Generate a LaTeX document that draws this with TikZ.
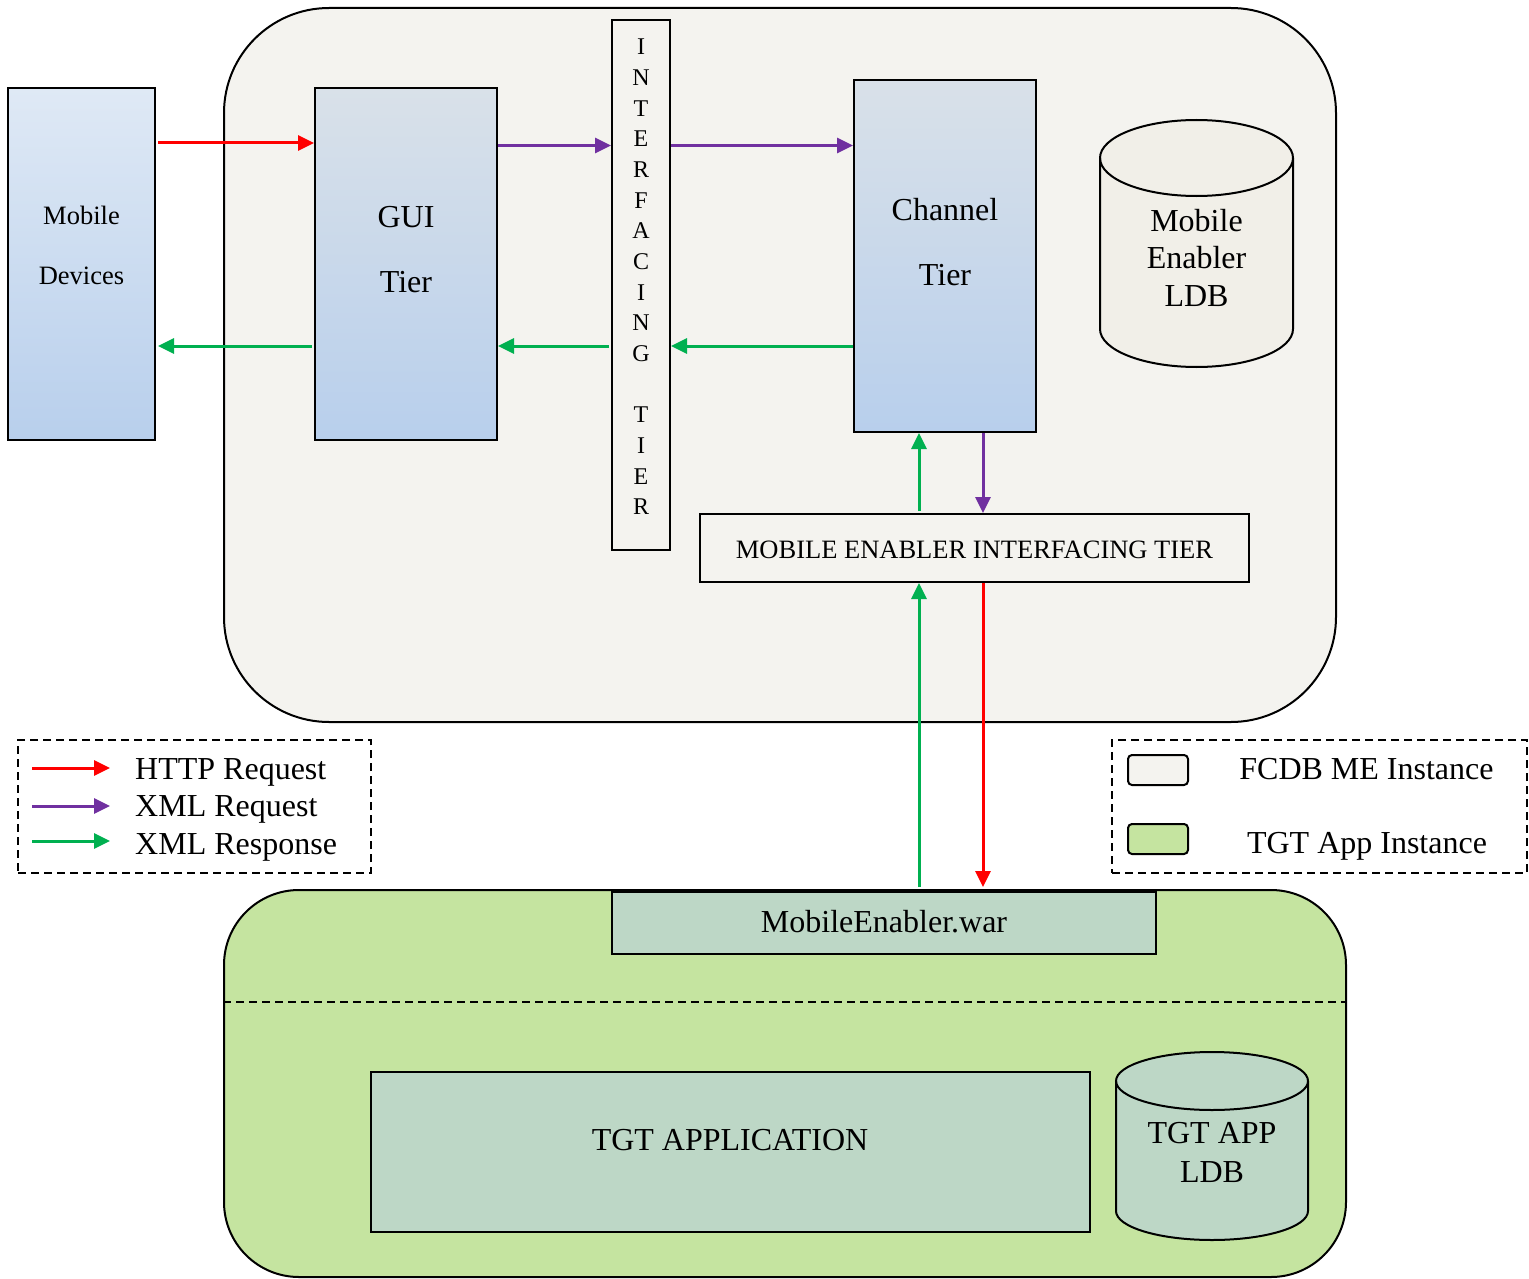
\documentclass[tikz,border=0pt]{standalone}
\usepackage{fontspec}
\setmainfont{Liberation Serif}
\usetikzlibrary{arrows.meta}
\definecolor{bgGrey}{HTML}{F4F3EF}
\definecolor{cylGrey}{HTML}{F1EFE8}
\definecolor{appGreen}{HTML}{C5E4A0}
\definecolor{boxGreen}{HTML}{BDD7C6}
\definecolor{arrRed}{HTML}{FF0000}
\definecolor{arrPurple}{HTML}{7030A0}
\definecolor{arrGreen}{HTML}{00B050}
\definecolor{blueTop}{HTML}{DFE9F5}
\definecolor{greyTop}{HTML}{D9E1E9}
\definecolor{blueMid}{HTML}{C0D4ED}
\definecolor{blueBot}{HTML}{B8CFEC}
\tikzset{
  tierbox/.style={draw, line width=2pt, rectangle, inner sep=0pt, top color=#1, middle color=blueMid, bottom color=blueBot},
  plainbox/.style={draw, line width=2pt, rectangle, inner sep=0pt},
  flow/.style={line width=3pt, -{Triangle[length=16pt,width=15pt]}},
  legbox/.style={draw, line width=2pt, dash pattern=on 8pt off 5pt, rectangle, inner sep=0pt},
  bigtxt/.style={font=\fontsize{32}{37.5}\selectfont, align=center, inner sep=0pt},
  midtxt/.style={font=\fontsize{26.5}{60}\selectfont, align=center, inner sep=0pt},
}
\begin{document}
\begin{tikzpicture}[x=1pt,y=1pt]
\useasboundingbox (0,0) rectangle (1529,-1279);
% containers
\node[draw, line width=2pt, rounded corners=105pt, fill=bgGrey, minimum width=1112, minimum height=714, inner sep=0pt] (fcdb) at (780,-365) {};
\node[draw, line width=2pt, rounded corners=75pt, fill=appGreen, minimum width=1122, minimum height=387, inner sep=0pt] (tgt) at (785,-1083.5) {};
\coordinate (dl) at (0,-1002);
\draw[line width=2pt, dash pattern=on 8pt off 5pt] (tgt.west |- dl) -- (tgt.east |- dl);
% tier boxes
\node[tierbox=blueTop, minimum width=147, minimum height=352] (mob) at (81.5,-264) {};
\node[midtxt] (mobt) at (81.5,-245) {Mobile\\Devices};
\node[tierbox=greyTop, minimum width=182, minimum height=352] (gui) at (406,-264) {};
\node[bigtxt, font=\fontsize{32}{65}\selectfont] (guit) at (406,-249.5) {GUI\\Tier};
\node[plainbox, fill=bgGrey, minimum width=58, minimum height=530] (itf) at (641,-285) {};
\node[font=\fontsize{24}{30.67}\selectfont, align=center, inner sep=0pt] (itft) at (641,-277) {I\\N\\T\\E\\R\\F\\A\\C\\I\\N\\G\\\mbox{}\\T\\I\\E\\R};
\node[tierbox=greyTop, minimum width=182, minimum height=352] (chan) at (945,-256) {};
\node[bigtxt, font=\fontsize{32}{65}\selectfont] (chant) at (945,-242.5) {Channel\\Tier};
\node[plainbox, fill=bgGrey, minimum width=549, minimum height=68] (meit) at (974.5,-548) {};
\node[font=\fontsize{26.5}{30}\selectfont, inner sep=0pt] (meitt) at (974.5,-550) {MOBILE ENABLER INTERFACING TIER};
% cylinder ME LDB
\fill[cylGrey] (1100,-158) -- (1100,-329) arc[start angle=180,end angle=360,x radius=96.5,y radius=38] -- (1293,-158) arc[start angle=0,end angle=180,x radius=96.5,y radius=38] -- cycle;
\draw[line width=2pt] (1100,-158) -- (1100,-329) arc[start angle=180,end angle=360,x radius=96.5,y radius=38] -- (1293,-158);
\draw[line width=2pt] (1196.5,-158) ellipse[x radius=96.5,y radius=38];
\node[bigtxt] (ldb) at (1196.5,-257.5) {Mobile\\Enabler\\LDB};
% bottom boxes
\node[plainbox, fill=boxGreen, minimum width=544, minimum height=62] (war) at (884,-923) {};
\node[bigtxt] (wart) at (884,-922) {MobileEnabler.war};
\node[plainbox, fill=boxGreen, minimum width=719, minimum height=160] (app) at (730.5,-1152) {};
\node[bigtxt] (appt) at (730,-1140) {TGT APPLICATION};
% cylinder TGT APP LDB
\fill[boxGreen] (1116,-1081) -- (1116,-1211) arc[start angle=180,end angle=360,x radius=96,y radius=29] -- (1308,-1081) arc[start angle=0,end angle=180,x radius=96,y radius=29] -- cycle;
\draw[line width=2pt] (1116,-1081) -- (1116,-1211) arc[start angle=180,end angle=360,x radius=96,y radius=29] -- (1308,-1081);
\draw[line width=2pt] (1212,-1081) ellipse[x radius=96,y radius=29];
\node[bigtxt, font=\fontsize{32}{39}\selectfont] (tldb) at (1212,-1152.5) {TGT APP\\LDB};
% connectors
\coordinate (yA) at (0,-143);
\coordinate (yB) at (0,-145.5);
\coordinate (yC) at (0,-346);
\coordinate (xA) at (919,0);
\coordinate (xB) at (983,0);
\draw[flow, arrRed] ([xshift=2pt]mob.east |- yA) -- (gui.west |- yA);
\draw[flow, arrPurple] (gui.east |- yB) -- (itf.west |- yB);
\draw[flow, arrPurple] (itf.east |- yB) -- (chan.west |- yB);
\draw[flow, arrGreen] (chan.west |- yC) -- (itf.east |- yC);
\draw[flow, arrGreen] ([xshift=-2pt]itf.west |- yC) -- (gui.east |- yC);
\draw[flow, arrGreen] ([xshift=-2pt]gui.west |- yC) -- ([xshift=2pt]mob.east |- yC);
\draw[flow, arrGreen] ([yshift=2pt]meit.north -| xA) -- (chan.south -| xA);
\draw[flow, arrPurple] (chan.south -| xB) -- (meit.north -| xB);
\draw[flow, arrGreen] ([yshift=2pt]tgt.north -| xA) -- (meit.south -| xA);
\draw[flow, arrRed] (meit.south -| xB) -- ([yshift=2pt]tgt.north -| xB);
% legend left
\node[legbox, minimum width=353, minimum height=133] (legL) at (194.5,-806.5) {};
\coordinate (l1s) at (32,-768); \coordinate (l1e) at (110,-768);
\coordinate (l2s) at (32,-806); \coordinate (l2e) at (110,-806);
\coordinate (l3s) at (32,-841); \coordinate (l3e) at (110,-841);
\draw[flow, arrRed] (l1s) -- (l1e);
\draw[flow, arrPurple] (l2s) -- (l2e);
\draw[flow, arrGreen] (l3s) -- (l3e);
\node[bigtxt, anchor=west] (t1) at (135,-772) {HTTP Request};
\node[bigtxt, anchor=west] (t2) at (135,-809) {XML Request};
\node[bigtxt, anchor=west] (t3) at (135,-847) {XML Response};
% legend right
\node[legbox, minimum width=415, minimum height=133] (legR) at (1319.5,-806.5) {};
\node[draw, line width=2pt, rounded corners=4pt, fill=bgGrey, minimum width=60, minimum height=30, inner sep=0pt] (sw1) at (1158,-770) {};
\node[draw, line width=2pt, rounded corners=4pt, fill=appGreen, minimum width=60, minimum height=30, inner sep=0pt] (sw2) at (1158,-839) {};
\node[bigtxt] (s1) at (1366.5,-769) {FCDB ME Instance};
\node[bigtxt] (s2) at (1367,-846) {TGT App Instance};
\end{tikzpicture}
\end{document}
